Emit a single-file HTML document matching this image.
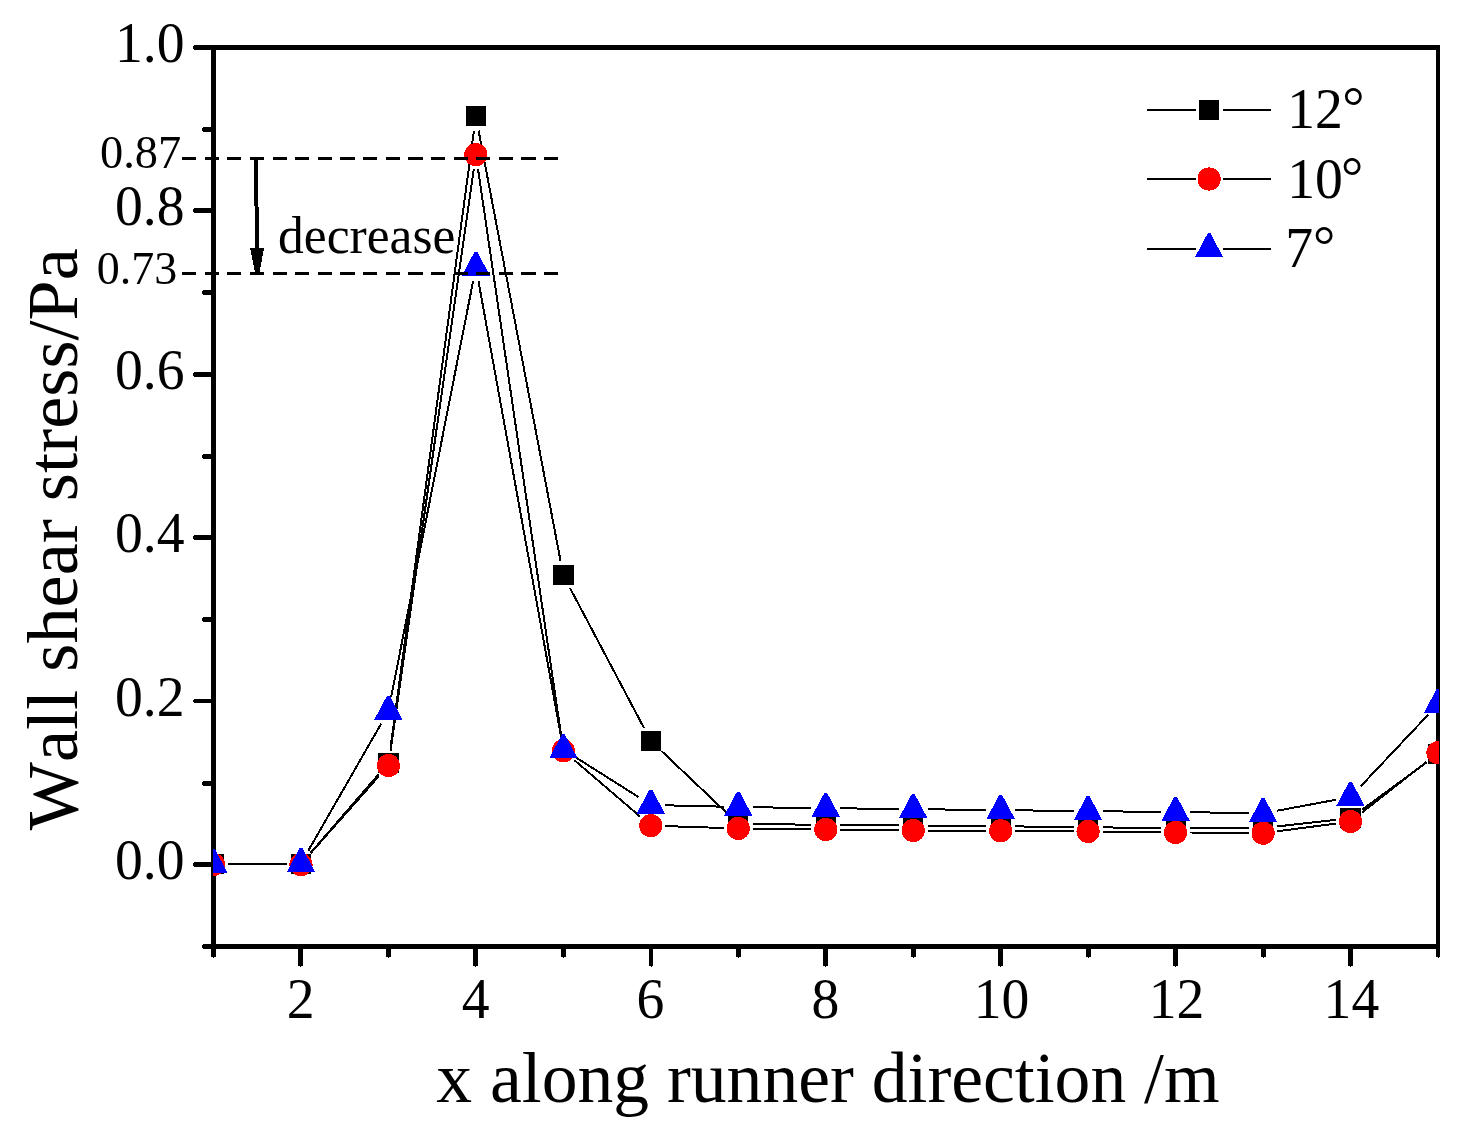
<!DOCTYPE html>
<html lang="en"><head><meta charset="utf-8"><title>Wall shear stress along runner direction</title>
<style>html,body{margin:0;padding:0;background:#fff}body{width:1464px;height:1130px;overflow:hidden}svg{display:block}</style></head>
<body>
<svg width="1464" height="1130" viewBox="0 0 1464 1130" font-family="'Liberation Serif', serif" fill="#000" style="font-kerning:none">
<rect width="1464" height="1130" fill="#fff"/>
<defs><clipPath id="c"><rect x="213" y="40" width="1226" height="920"/></clipPath></defs>
<g fill="#000" shape-rendering="crispEdges">
<rect x="211" y="45" width="1229" height="5"/>
<rect x="211" y="944" width="1229" height="5"/>
<rect x="211" y="45" width="5" height="904"/>
<rect x="1436" y="45" width="4" height="904"/>
<rect x="211" y="949" width="5" height="8"/>
<rect x="213" y="957" width="1" height="1"/>
<rect x="298" y="949" width="5" height="17"/>
<rect x="300" y="966" width="1" height="1"/>
<rect x="386" y="949" width="5" height="8"/>
<rect x="388" y="957" width="1" height="1"/>
<rect x="473" y="949" width="5" height="17"/>
<rect x="475" y="966" width="1" height="1"/>
<rect x="561" y="949" width="5" height="8"/>
<rect x="563" y="957" width="1" height="1"/>
<rect x="649" y="949" width="4" height="17"/>
<rect x="651" y="966" width="1" height="1"/>
<rect x="736" y="949" width="5" height="8"/>
<rect x="738" y="957" width="1" height="1"/>
<rect x="823" y="949" width="5" height="17"/>
<rect x="825" y="966" width="1" height="1"/>
<rect x="911" y="949" width="5" height="8"/>
<rect x="913" y="957" width="1" height="1"/>
<rect x="998" y="949" width="5" height="17"/>
<rect x="1000" y="966" width="1" height="1"/>
<rect x="1086" y="949" width="5" height="8"/>
<rect x="1088" y="957" width="1" height="1"/>
<rect x="1173" y="949" width="5" height="17"/>
<rect x="1175" y="966" width="1" height="1"/>
<rect x="1261" y="949" width="5" height="8"/>
<rect x="1263" y="957" width="1" height="1"/>
<rect x="1348" y="949" width="5" height="17"/>
<rect x="1350" y="966" width="1" height="1"/>
<rect x="1436" y="949" width="4" height="8"/>
<rect x="1438" y="957" width="1" height="1"/>
<rect x="203" y="944" width="8" height="5"/>
<rect x="202" y="945" width="1" height="3"/>
<rect x="194" y="862" width="17" height="5"/>
<rect x="193" y="863" width="1" height="3"/>
<rect x="203" y="781" width="8" height="5"/>
<rect x="202" y="782" width="1" height="3"/>
<rect x="194" y="699" width="17" height="4"/>
<rect x="193" y="700" width="1" height="2"/>
<rect x="203" y="617" width="8" height="5"/>
<rect x="202" y="618" width="1" height="3"/>
<rect x="194" y="535" width="17" height="5"/>
<rect x="193" y="536" width="1" height="3"/>
<rect x="203" y="454" width="8" height="5"/>
<rect x="202" y="455" width="1" height="3"/>
<rect x="194" y="372" width="17" height="5"/>
<rect x="193" y="373" width="1" height="3"/>
<rect x="203" y="290" width="8" height="5"/>
<rect x="202" y="291" width="1" height="3"/>
<rect x="194" y="208" width="17" height="5"/>
<rect x="193" y="209" width="1" height="3"/>
<rect x="203" y="127" width="8" height="5"/>
<rect x="202" y="128" width="1" height="3"/>
<rect x="194" y="45" width="17" height="5"/>
<rect x="193" y="46" width="1" height="3"/>
</g>
<g font-size="57.4" text-anchor="middle">
<text transform="translate(300.7,1017.6) scale(0.97,1)">2</text>
<text transform="translate(475.6,1017.6) scale(0.97,1)">4</text>
<text transform="translate(650.5,1017.6) scale(0.97,1)">6</text>
<text transform="translate(825.5,1017.6) scale(0.97,1)">8</text>
<text transform="translate(1001.6,1017.6) scale(0.97,1)">10</text>
<text transform="translate(1176.5,1017.6) scale(0.97,1)">12</text>
<text transform="translate(1351.4,1017.6) scale(0.97,1)">14</text>
</g>
<g font-size="57.4" text-anchor="end">
<text transform="translate(184.5,879.2) scale(0.97,1)">0.0</text>
<text transform="translate(184.5,715.7) scale(0.97,1)">0.2</text>
<text transform="translate(184.5,552.3) scale(0.97,1)">0.4</text>
<text transform="translate(184.5,388.8) scale(0.97,1)">0.6</text>
<text transform="translate(184.5,225.4) scale(0.97,1)">0.8</text>
<text transform="translate(184.5,61.9) scale(0.97,1)">1.0</text>
</g>
<text x="828" y="1101.5" font-size="71.6" text-anchor="middle">x along runner direction /m</text>
<text transform="translate(76.6,539.2) rotate(-90)" font-size="72.3" text-anchor="middle">Wall shear stress/Pa</text>
<g shape-rendering="crispEdges">
<path d="M228.0 864.0L286.5 864.0M310.5 853.0L378.9 774.0M390.4 748.6L473.9 130.8M478.6 130.6L560.6 561.2M570.1 588.2L644.0 728.0M661.3 750.8L727.8 813.9M752.8 824.0L811.3 824.7M840.2 824.9L898.7 825.5M927.7 825.7L986.2 826.2M1015.2 826.4L1073.6 827.1M1102.6 827.4L1161.1 828.0M1190.1 828.2L1248.6 828.0M1277.5 826.4L1336.1 819.8M1362.2 809.6L1426.3 762.6" stroke="#000" stroke-width="2" fill="none"/>
<path d="M228.0 864.0L286.5 864.0M310.6 853.2L378.8 776.3M390.5 751.1L473.8 169.1M478.0 169.0L561.3 736.5M574.4 760.2L639.8 816.3M665.3 826.1L723.8 828.0M752.8 828.6L811.3 829.3M840.2 829.7L898.7 830.3M927.7 830.5L986.2 830.8M1015.2 830.9L1073.6 831.4M1102.6 831.6L1161.1 832.3M1190.1 832.5L1248.6 833.1M1277.4 831.3L1336.2 823.5M1361.9 812.6L1426.6 761.8" stroke="#000" stroke-width="2" fill="none"/>
<path d="M228.0 863.9L286.5 863.5M308.2 850.8L381.2 723.6M391.2 696.8L473.1 281.3M478.5 281.4L560.8 735.2M575.6 757.3L638.6 797.1M665.3 805.3L723.8 806.7M752.8 807.3L811.3 807.9M840.2 808.3L898.7 809.0M927.7 809.3L986.2 810.0M1015.2 810.3L1073.6 811.0M1102.6 811.3L1161.1 811.9M1190.1 812.2L1248.6 813.1M1277.3 810.7L1336.3 799.7M1360.5 786.5L1428.1 714.8" stroke="#000" stroke-width="2" fill="none"/>
</g>
<g clip-path="url(#c)" shape-rendering="crispEdges">
<rect x="203.4" y="854.0" width="20.2" height="20" fill="#000"/>
<rect x="290.9" y="854.0" width="20.2" height="20" fill="#000"/>
<rect x="378.3" y="753.0" width="20.2" height="20" fill="#000"/>
<rect x="465.8" y="106.4" width="20.2" height="20" fill="#000"/>
<rect x="553.3" y="565.4" width="20.2" height="20" fill="#000"/>
<rect x="640.7" y="730.8" width="20.2" height="20" fill="#000"/>
<rect x="728.2" y="813.9" width="20.2" height="20" fill="#000"/>
<rect x="815.6" y="814.8" width="20.2" height="20" fill="#000"/>
<rect x="903.1" y="815.6" width="20.2" height="20" fill="#000"/>
<rect x="990.6" y="816.3" width="20.2" height="20" fill="#000"/>
<rect x="1078.0" y="817.2" width="20.2" height="20" fill="#000"/>
<rect x="1165.5" y="818.2" width="20.2" height="20" fill="#000"/>
<rect x="1253.0" y="818.0" width="20.2" height="20" fill="#000"/>
<rect x="1340.4" y="808.2" width="20.2" height="20" fill="#000"/>
<rect x="1427.9" y="744.0" width="20.2" height="20" fill="#000"/>
<circle cx="213.5" cy="864.5" r="11.6" fill="#f00"/>
<circle cx="301.0" cy="864.6" r="11.6" fill="#f00"/>
<circle cx="388.4" cy="765.5" r="11.6" fill="#f00"/>
<circle cx="475.9" cy="154.7" r="11.6" fill="#f00"/>
<circle cx="563.4" cy="750.8" r="11.6" fill="#f00"/>
<circle cx="650.8" cy="825.7" r="11.6" fill="#f00"/>
<circle cx="738.3" cy="828.4" r="11.6" fill="#f00"/>
<circle cx="825.8" cy="829.5" r="11.6" fill="#f00"/>
<circle cx="913.2" cy="830.5" r="11.6" fill="#f00"/>
<circle cx="1000.7" cy="830.8" r="11.6" fill="#f00"/>
<circle cx="1088.1" cy="831.5" r="11.6" fill="#f00"/>
<circle cx="1175.6" cy="832.4" r="11.6" fill="#f00"/>
<circle cx="1263.1" cy="833.2" r="11.6" fill="#f00"/>
<circle cx="1350.5" cy="821.6" r="11.6" fill="#f00"/>
<circle cx="1438.0" cy="752.8" r="11.6" fill="#f00"/>
<polygon points="212.2,848.8 214.8,848.8 227.6,872.8 199.4,872.8" fill="#00f"/>
<polygon points="299.7,847.8 302.3,847.8 315.1,871.8 286.9,871.8" fill="#00f"/>
<polygon points="387.1,695.6 389.7,695.6 402.5,719.6 374.3,719.6" fill="#00f"/>
<polygon points="474.6,251.7 477.2,251.7 490.0,275.7 461.8,275.7" fill="#00f"/>
<polygon points="562.1,734.1 564.7,734.1 577.5,758.1 549.3,758.1" fill="#00f"/>
<polygon points="649.5,789.5 652.1,789.5 664.9,813.5 636.7,813.5" fill="#00f"/>
<polygon points="737.0,791.7 739.6,791.7 752.4,815.7 724.2,815.7" fill="#00f"/>
<polygon points="824.5,792.7 827.0,792.7 839.9,816.7 811.6,816.7" fill="#00f"/>
<polygon points="911.9,793.8 914.5,793.8 927.3,817.8 899.1,817.8" fill="#00f"/>
<polygon points="999.4,794.7 1002.0,794.7 1014.8,818.7 986.6,818.7" fill="#00f"/>
<polygon points="1086.8,795.8 1089.4,795.8 1102.2,819.8 1074.0,819.8" fill="#00f"/>
<polygon points="1174.3,796.6 1176.9,796.6 1189.7,820.6 1161.5,820.6" fill="#00f"/>
<polygon points="1261.8,797.9 1264.4,797.9 1277.2,821.9 1249.0,821.9" fill="#00f"/>
<polygon points="1349.2,781.7 1351.8,781.7 1364.6,805.7 1336.4,805.7" fill="#00f"/>
<polygon points="1436.7,688.8 1439.3,688.8 1452.1,712.8 1423.9,712.8" fill="#00f"/>
</g>
<g stroke="#000" stroke-width="3" stroke-dasharray="14.2 8.43" fill="none" shape-rendering="crispEdges">
<line x1="182" y1="158.5" x2="558.5" y2="158.5"/>
<line x1="182" y1="273.5" x2="558.5" y2="273.5"/>
</g>
<g shape-rendering="crispEdges"><line x1="256" y1="158" x2="257" y2="252" stroke="#000" stroke-width="4"/>
<polygon points="250,248 264,248 259.6,272 255,272" fill="#000"/></g>
<text transform="translate(278,252.8) scale(0.965,1)" font-size="53.4">decrease</text>
<text x="181.2" y="168.4" font-size="46.4" text-anchor="end">0.87</text>
<text x="177.2" y="284.4" font-size="46" text-anchor="end">0.73</text>
<g shape-rendering="crispEdges">
<path d="M1147 110H1195.5M1223 110H1271" stroke="#000" stroke-width="2" fill="none"/>
<rect x="1199.0" y="100.0" width="20.2" height="20" fill="#000"/>
<path d="M1147 179H1195.5M1223 179H1271" stroke="#000" stroke-width="2" fill="none"/>
<circle cx="1209.1" cy="179.0" r="11.6" fill="#f00"/>
<path d="M1147 248.6H1195.5M1223 248.6H1271" stroke="#000" stroke-width="2" fill="none"/>
<polygon points="1207.8,233.2 1210.4,233.2 1223.2,257.2 1195.0,257.2" fill="#00f"/>
</g>
<g font-size="57.4">
<text transform="translate(1287.2,128) scale(0.97,1)">12<tspan dx="-0.6" dy="-1.8">°</tspan></text>
<text transform="translate(1287.2,197.7) scale(0.97,1)">10<tspan dx="-2" dy="-1.8">°</tspan></text>
<text transform="translate(1285.2,266.6) scale(0.97,1)">7<tspan dx="0" dy="-1.8">°</tspan></text>
</g>
</svg>
</body></html>
